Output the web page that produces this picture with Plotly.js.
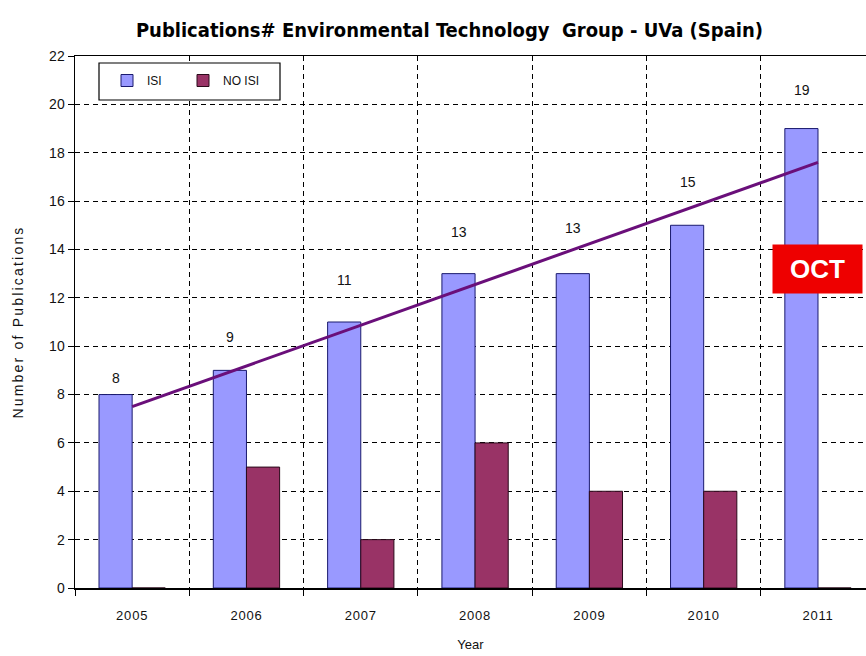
<!DOCTYPE html>
<html>
<head>
<meta charset="utf-8">
<script src="https://cdn.plot.ly/plotly-3.0.1.min.js"></script>
<style>
html,body{margin:0;padding:0;background:#fff;}
#chart{width:866px;height:656px;}
#chart .ytitle{letter-spacing:2.2px;}
#chart .xtick text{letter-spacing:0.8px;}
</style>
</head>
<body>
<div id="chart"></div>
<script>
// ---- data ----
var years = ['2005', '2006', '2007', '2008', '2009', '2010', '2011'];
var isi = [8, 9, 11, 13, 13, 15, 19];
var noIsi = [0, 5, 2, 6, 4, 4, 0];
var trendYears = ['2005', '2011'];
var trendValues = [7.5, 17.6];
var yTicks = [0, 2, 4, 6, 8, 10, 12, 14, 16, 18, 20, 22];
var noteYear = '2011';
var noteText = 'OCT';
var labelShift = [17, 33, 42, 42, 46, 43, 39]; // pixel offsets of value labels (style)

var traces = [
  {
    type: 'bar', name: 'ISI', x: years, y: isi,
    marker: {color: '#9999ff', line: {color: '#1a1a6e', width: 1}}
  },
  {
    type: 'bar', name: 'NO ISI', x: years, y: noIsi,
    marker: {color: '#993366', line: {color: '#2a0a1a', width: 1}}
  },
  {
    type: 'scatter', mode: 'lines', x: trendYears, y: trendValues,
    line: {color: '#6a0f7a', width: 3}, showlegend: false, hoverinfo: 'skip'
  }
];

var annotations = years.map(function (yr, i) {
  return {
    x: years.indexOf(yr), y: isi[i], xref: 'x', yref: 'y', text: String(isi[i]),
    showarrow: false, xshift: -16, yshift: labelShift[i],
    font: {family: 'Liberation Sans, Arial, sans-serif', size: 14, color: '#111'}
  };
});
annotations.push({
  x: years.indexOf(noteYear), y: 13.2, xref: 'x', yref: 'y', text: '<b>' + noteText + '</b>',
  showarrow: false, bgcolor: '#ee0000', width: 89, height: 48, borderpad: 0,
  font: {family: 'Liberation Sans, Arial, sans-serif', size: 26, color: '#ffffff'}
});

var layout = {
  width: 866, height: 656,
  margin: {l: 75, r: 0, t: 56, b: 68},
  paper_bgcolor: '#ffffff', plot_bgcolor: '#ffffff',
  barmode: 'group', bargap: 0.42, bargroupgap: 0,
  font: {family: 'Liberation Sans, Arial, sans-serif', size: 13, color: '#111'},
  title: {
    text: '<b>Publications# Environmental Technology\u00a0 Group - UVa (Spain)</b>',
    x: 0.519, xref: 'container', y: 0.955, yref: 'container', yanchor: 'middle',
    font: {family: 'DejaVu Sans Condensed, Liberation Sans Narrow, Arial Narrow, sans-serif', size: 20, color: '#000'}
  },
  xaxis: {
    type: 'category', range: [-0.5, 6.42],
    tickson: 'boundaries', ticks: 'outside', ticklen: 6, tickcolor: '#000',
    showline: true, linecolor: '#000', linewidth: 1.5, mirror: true,
    showgrid: true, gridcolor: '#000', gridwidth: 1, griddash: '5px,4px',
    ticklabelstandoff: 15, tickfont: {size: 13},
    title: {text: 'Year', standoff: 18, font: {size: 13}}
  },
  yaxis: {
    range: [0, 22], tickvals: yTicks, ticks: 'outside', ticklen: 6, tickcolor: '#000',
    showline: true, linecolor: '#000', linewidth: 1.5,
    showgrid: true, gridcolor: '#000', gridwidth: 1, griddash: '5px,4px',
    zeroline: false, tickfont: {size: 14},
    title: {text: 'Number of Publications', standoff: 22, font: {size: 14}}
  },
  legend: {
    orientation: 'h', x: (107 - 75) / 791, y: (588 - 66) / 532, xanchor: 'left', yanchor: 'top',
    bgcolor: 'rgba(0,0,0,0)', borderwidth: 0,
    font: {size: 12}, entrywidth: 31
  },
  shapes: [{
    type: 'rect', xref: 'paper', yref: 'paper', layer: 'above',
    x0: (99 - 75) / 791, x1: (280 - 75) / 791,
    y0: (588 - 100) / 532, y1: (588 - 63) / 532,
    fillcolor: '#ffffff', line: {color: '#000', width: 1.2}
  }],
  annotations: annotations
};

Plotly.newPlot('chart', traces, layout, {displayModeBar: false, staticPlot: true});
</script>
</body>
</html>
